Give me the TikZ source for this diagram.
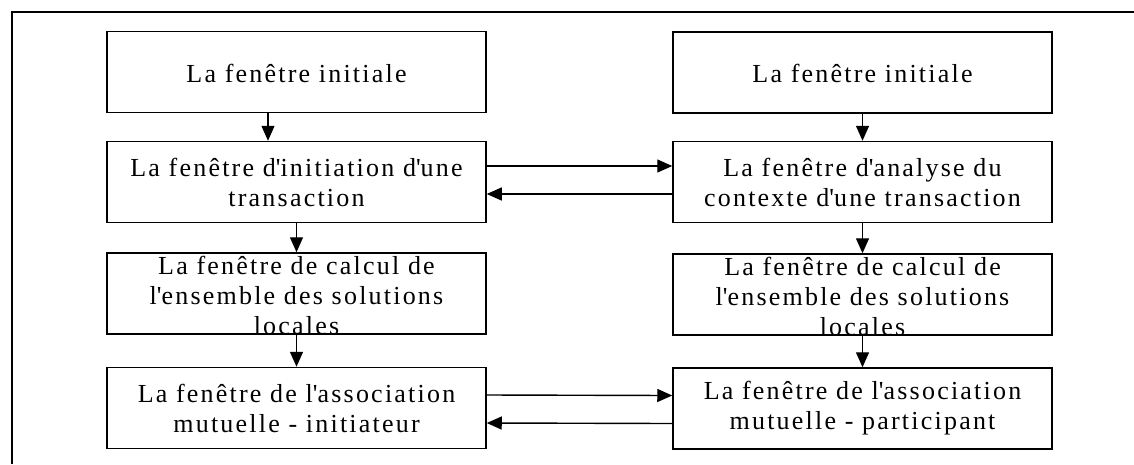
\documentclass[tikz,border=0pt]{standalone}
\usepackage{fontspec}
\newfontfamily\lsfont[LetterSpace=8.5]{Liberation Serif}
\usetikzlibrary{arrows.meta}
\newcommand\ap{\textquotesingle}
\begin{document}
\begin{tikzpicture}[x=1pt,y=-1pt,
  box/.style={draw,line width=1.5pt,minimum width=379pt,minimum height=81pt,inner sep=0pt},
  txt/.style={align=center,inner sep=0pt,font=\lsfont\fontsize{26}{30}\selectfont},
  arr/.style={line width=1.4pt,-{Triangle[length=15pt,width=13pt]}},
  frame/.style={line width=1.6pt}]
\useasboundingbox (0,0) rectangle (1134,464);
\coordinate (fa) at (12,464);
\coordinate (fb) at (12,12);
\coordinate (fc) at (1134,12);
\draw[frame] (fa) -- (fb) -- (fc);
% boxes
\node[box] (l1) at (296.5,72) {};
\node[box] (l2) at (296.5,182) {};
\node[box] (l3) at (296.5,293.5) {};
\node[box] (l4) at (296.5,408) {};
\node[box] (r1) at (862.5,72.5) {};
\node[box] (r2) at (862.5,182) {};
\node[box] (r3) at (862.5,294.5) {};
\node[box] (r4) at (862.5,408.5) {};
% texts
\node[txt] (tl1) at ([yshift=-1pt]l1.center) {La fenêtre initiale};
\node[txt] (tl2) at (l2.center) {La fenêtre d\ap initiation d\ap une\\transaction};
\node[txt] (tl3) at ([yshift=-2pt]l3.center) {La fenêtre de calcul de\\l\ap ensemble des solutions\\locales};
\node[txt] (tl4) at (l4.center) {La fenêtre de l\ap association\\mutuelle - initiateur};
\node[txt] (tr1) at ([yshift=-1pt]r1.center) {La fenêtre initiale};
\node[txt] (tr2) at (r2.center) {La fenêtre d\ap analyse du\\contexte d\ap une transaction};
\node[txt] (tr3) at ([yshift=-2pt]r3.center) {La fenêtre de calcul de\\l\ap ensemble des solutions\\locales};
\node[txt] (tr4) at (r4.center) {La fenêtre de l\ap association\\mutuelle - participant};
% vertical arrows
\draw[arr] ([xshift=-28.5pt]l1.south) -- ([xshift=-28.5pt]l2.north);
\draw[arr] (l2.south) -- (l3.north);
\draw[arr] (l3.south) -- (l4.north);
\draw[arr] (r1.south) -- (r2.north);
\draw[arr] (r2.south) -- (r3.north);
\draw[arr] (r3.south) -- (r4.north);
% horizontal arrows
\draw[arr] ([yshift=16pt]l2.east) -- ([yshift=16pt]r2.west);
\draw[arr] ([yshift=-12pt]r2.west) -- ([yshift=-12pt]l2.east);
\draw[arr] ([yshift=13pt]l4.east) -- ([yshift=13pt]r4.west);
\draw[arr] ([yshift=-15pt]r4.west) -- ([yshift=-15pt]l4.east);
\end{tikzpicture}
\end{document}
